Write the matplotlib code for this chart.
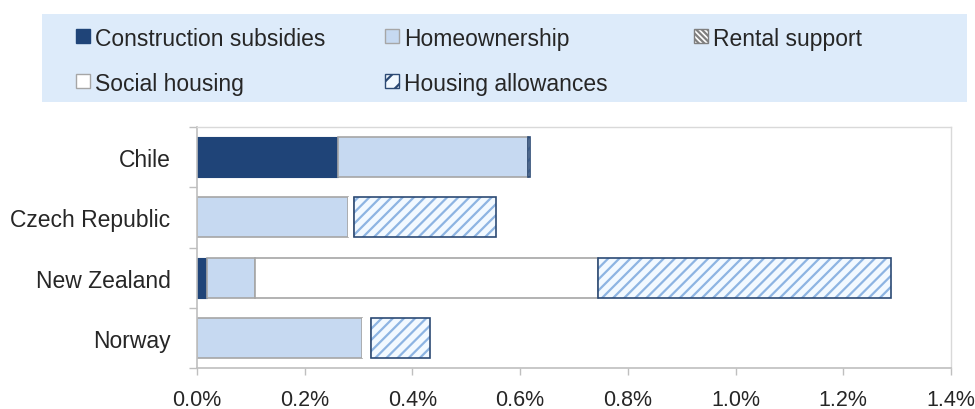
import matplotlib
matplotlib.use("Agg")
from matplotlib import pyplot as plt
from matplotlib.patches import Rectangle
from matplotlib.ticker import FuncFormatter, FixedLocator

plt.rcParams['font.family'] = ['Liberation Sans', 'DejaVu Sans']
plt.rcParams['hatch.linewidth'] = 1.6

countries = ["Chile", "Czech Republic", "New Zealand", "Norway"]
construction = [0.262, 0.0, 0.019, 0.0]
homeownership = [0.352, 0.280, 0.089, 0.306]
rental = [0.0, 0.011, 0.0, 0.017]
social = [0.0, 0.0, 0.636, 0.0]
allowances = [0.004, 0.264, 0.545, 0.109]
xticks = [0.0, 0.2, 0.4, 0.6, 0.8, 1.0, 1.2, 1.4]

navy = "#1f4478"
light = "#c6d9f1"
grey = "#a6a6a6"
hatch_blue = "#8db4e2"
edge_dark = "#2c4a74"
txt = "#262626"

fig = plt.figure(figsize=(9.75, 4.1), dpi=100)
ax = fig.add_axes([197 / 975, 1 - 369 / 410, 754 / 975, 241 / 410])

y = list(range(len(countries)))
h = 0.66
left = [0.0] * len(countries)

ax.barh(y, construction, h, left=left, color=navy, edgecolor=navy, linewidth=0.8)
left = [a + b for a, b in zip(left, construction)]
ax.barh(y, homeownership, h, left=left, color=light, edgecolor=grey, linewidth=1.2)
left = [a + b for a, b in zip(left, homeownership)]
# rental support slivers render as blank gaps
ax.barh(y, rental, h, left=left, color="white", linewidth=0)
left = [a + b for a, b in zip(left, rental)]
ax.barh(y, social, h, left=left, color="white", edgecolor=grey, linewidth=1.2)
left = [a + b for a, b in zip(left, social)]
ax.barh(y, allowances, h, left=left, color="#f2f9ff", edgecolor=hatch_blue,
        hatch="///", linewidth=0)
ax.barh(y, allowances, h, left=left, fill=False, edgecolor=edge_dark, linewidth=1.2)

ax.set_xlim(0, 1.4)
ax.set_ylim(3.5, -0.5)
ax.xaxis.set_major_locator(FixedLocator(xticks))
ax.xaxis.set_major_formatter(FuncFormatter(lambda v, p: f"{v:.1f}%"))
ax.yaxis.set_major_locator(FixedLocator([-0.5, 0.5, 1.5, 2.5, 3.5]))
ax.yaxis.set_major_formatter(FuncFormatter(lambda v, p: ""))
ax.yaxis.set_minor_locator(FixedLocator(y))
ax.set_yticklabels(countries, minor=True)
ax.tick_params(axis="y", which="minor", length=0, pad=19, labelsize=16.5, labelcolor=txt)
ax.tick_params(axis="y", which="major", length=6, color="#bfbfbf", width=1)
ax.tick_params(axis="x", length=5, color="#bfbfbf", width=1, pad=10,
               labelsize=15.5, labelcolor=txt)
for side in ["left", "bottom"]:
    ax.spines[side].set_color("#bfbfbf")
    ax.spines[side].set_linewidth(1.2)
for side in ["top", "right"]:
    ax.spines[side].set_color("#d9d9d9")
    ax.spines[side].set_linewidth(1)

# legend panel
fig.patches.append(Rectangle((42 / 975, 1 - 103 / 410), 925 / 975, 88 / 410,
                             transform=fig.transFigure, facecolor="#ddebfa",
                             edgecolor="none", zorder=0))
entries = [
    ("Construction subsidies", dict(facecolor=navy, edgecolor=navy), 76, 37),
    ("Homeownership", dict(facecolor=light, edgecolor=grey), 385, 37),
    ("Rental support", dict(facecolor="white", edgecolor="#7f7f7f", hatch="\\\\\\\\\\\\"), 694, 37),
    ("Social housing", dict(facecolor="white", edgecolor=grey), 76, 82),
    ("Housing allowances", dict(facecolor="#f2f9ff", edgecolor=edge_dark, hatch="//"), 385, 82),
]
for label, style, px, py in entries:
    fig.patches.append(Rectangle((px / 975, 1 - (py + 7) / 410), 14 / 975, 14 / 410,
                                 transform=fig.transFigure, linewidth=1, zorder=2, **style))
    fig.text((px + 19) / 975, 1 - py / 410, label, fontsize=16.5, color=txt,
             ha="left", va="center_baseline")

fig.savefig("out.png", dpi=100)
